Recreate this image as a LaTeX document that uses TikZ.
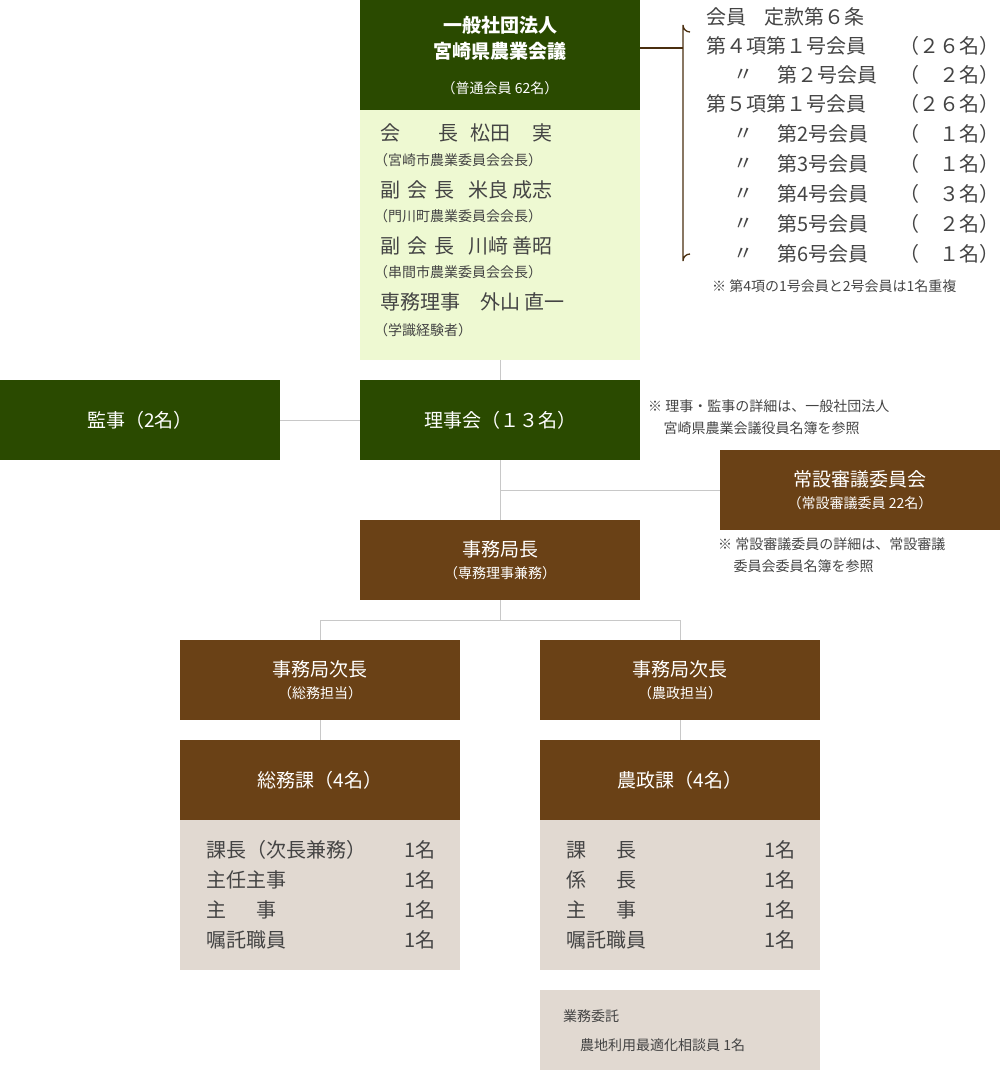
\documentclass[tikz,border=0pt]{standalone}
\usepackage{fontspec}
\setmainfont{Noto Sans CJK JP}
\definecolor{dgreen}{HTML}{2A4A00}
\definecolor{lgreen}{HTML}{EEF9D2}
\definecolor{dbrown}{HTML}{6A4116}
\definecolor{lgray}{HTML}{E1D9D1}
\definecolor{txt}{HTML}{444444}
\definecolor{lin}{HTML}{C8C8C8}
\begin{document}
\begin{tikzpicture}[x=1pt,y=-1pt,
  gbox/.style={fill=dgreen,text=white,minimum width=280pt,minimum height=80pt,inner sep=0pt,align=center,font=\fontsize{19}{24}\selectfont},
  bbox/.style={fill=dbrown,text=white,minimum width=280pt,minimum height=80pt,inner sep=0pt,align=center,font=\fontsize{19}{24}\selectfont},
  big/.style={anchor=west,inner sep=0pt,text=txt,font=\fontsize{20}{24}\selectfont},
  sml/.style={anchor=west,inner sep=0pt,text=txt,font=\fontsize{14}{18}\selectfont},
  note/.style={anchor=north west,inner sep=0pt,text=txt,align=left,font=\fontsize{14}{22}\selectfont},
  conn/.style={draw=lin,line width=1pt}]
\useasboundingbox (0,0) rectangle (1000,1070);
% top
\node[gbox,minimum height=110pt] (top) at (500,55) {};
\node[inner sep=0pt,text=white,align=center,font=\bfseries\fontsize{19}{26}\selectfont] (toptxt) at (500,38) {一般社団法人\\宮崎県農業会議};
\node[inner sep=0pt,text=white,font=\fontsize{14}{18}\selectfont] (topsub) at (500,88) {（普通会員 62名）};
\fill[lgreen] (360,110) rectangle (640,360);
\coordinate (lgb) at (500,360);
\node[big] (o1) at (380,133) {会\hspace{1.9em}長\hspace{0.6em}松田\hspace{1.1em}実};
\node[sml] (o1s) at (374,160) {（宮崎市農業委員会会長）};
\node[big] (o2) at (380,190) {副\hspace{0.35em}会\hspace{0.35em}長\hspace{0.7em}米良 成志};
\node[sml] (o2s) at (374,216) {（門川町農業委員会会長）};
\node[big] (o3) at (380,246) {副\hspace{0.35em}会\hspace{0.35em}長\hspace{0.7em}川﨑 善昭};
\node[sml] (o3s) at (374,272) {（串間市農業委員会会長）};
\node[big] (o4) at (380,302) {専務理事\hspace{1em}外山 直一};
\node[sml] (o4s) at (374,330) {（学識経験者）};
% right list
\begin{scope}[every node/.style={inner sep=0pt,text=txt,font=\fontsize{20}{24}\selectfont}]
\node[anchor=west] (m0) at (706,17) {会員\hspace{0.9em}定款第６条};
\node[anchor=west] (m1) at (706,46) {第４項第１号会員};
\node[anchor=east] (m1r) at (1000,46) {（２６名）};
\node[anchor=west] (m2a) at (733,75) {〃};
\node[anchor=west] (m2) at (777,75) {第２号会員};
\node[anchor=east] (m2r) at (1000,75) {（　２名）};
\node[anchor=west] (m3) at (706,104) {第５項第１号会員};
\node[anchor=east] (m3r) at (1000,104) {（２６名）};
\foreach \i/\n/\c in {4/2/１,5/3/１,6/4/３,7/5/２,8/6/１}{
  \node[anchor=west] (ma\i) at (733,{104+30*(\i-3)}) {〃};
  \node[anchor=west] (mb\i) at (777,{104+30*(\i-3)}) {第\n 号会員};
  \node[anchor=east] (mc\i) at (1000,{104+30*(\i-3)}) {（　\c 名）};
}
\end{scope}
\node[anchor=west,inner sep=0pt,text=txt,font=\fontsize{14}{18}\selectfont] (mnote) at (712,286) {※ 第4項の1号会員と2号会員は1名重複};
\draw[draw=dbrown!70!black,line width=1.3pt] (690,32) arc[start angle=90,end angle=180,radius=7] -- (683,261) arc[start angle=180,end angle=270,radius=7];
\coordinate (br) at (683,48);
\draw[draw=dbrown!70!black,line width=1.3pt] (top.east |- br) -- (br);
% board
\node[gbox] (rij) at (500,420) {理事会（１３名）};
\node[gbox] (kan) at (140,420) {監事（2名）};
\node[note] (n1) at (648,400) {※ 理事・監事の詳細は、一般社団法人\\\hspace{1.1em}宮崎県農業会議役員名簿を参照};
\node[bbox] (jos) at (860,490) {\fontsize{19}{24}\selectfont 常設審議委員会\\[-2pt]\fontsize{14}{20}\selectfont（常設審議委員 22名）};
\node[note] (n2) at (718,538) {※ 常設審議委員の詳細は、常設審議\\\hspace{1.1em}委員会委員名簿を参照};
\node[bbox] (kyo) at (500,560) {\fontsize{19}{24}\selectfont 事務局長\\[-2pt]\fontsize{14}{20}\selectfont（専務理事兼務）};
\node[bbox] (ji1) at (320,680) {\fontsize{19}{24}\selectfont 事務局次長\\[-2pt]\fontsize{14}{20}\selectfont（総務担当）};
\node[bbox] (ji2) at (680,680) {\fontsize{19}{24}\selectfont 事務局次長\\[-2pt]\fontsize{14}{20}\selectfont（農政担当）};
\node[bbox] (ka1) at (320,780) {総務課（4名）};
\node[bbox] (ka2) at (680,780) {農政課（4名）};
\fill[lgray] (180,820) rectangle (460,970);
\fill[lgray] (540,820) rectangle (820,970);
\fill[lgray] (540,990) rectangle (820,1070);
\begin{scope}[every node/.style={inner sep=0pt,text=txt,font=\fontsize{20}{24}\selectfont}]
\foreach \y/\a/\b in {850/課長（次長兼務）/1名,880/主任主事/1名,910/主\hspace{1.5em}事/1名,940/嘱託職員/1名}{
  \node[anchor=west] at (206,\y) {\a};
  \node[anchor=east] at (436,\y) {\b};}
\foreach \y/\a/\b in {850/課\hspace{1.5em}長/1名,880/係\hspace{1.5em}長/1名,910/主\hspace{1.5em}事/1名,940/嘱託職員/1名}{
  \node[anchor=west] at (566,\y) {\a};
  \node[anchor=east] at (796,\y) {\b};}
\end{scope}
\node[sml] (g1) at (563,1016) {業務委託};
\node[sml] (g2) at (580,1045) {農地利用最適化相談員 1名};
% connectors
\draw[conn] (lgb) -- (rij.north);
\draw[conn] (kan.east) -- (rij.west);
\draw[conn] (rij.south) -- (kyo.north);
\draw[conn] (500,490) -- (jos.west);
\draw[conn] (kyo.south) -- (500,620);
\draw[conn] (ji1.north) -- (320,620) -- (680,620) -- (ji2.north);
\draw[conn] (ji1.south) -- (ka1.north);
\draw[conn] (ji2.south) -- (ka2.north);
\end{tikzpicture}
\end{document}
